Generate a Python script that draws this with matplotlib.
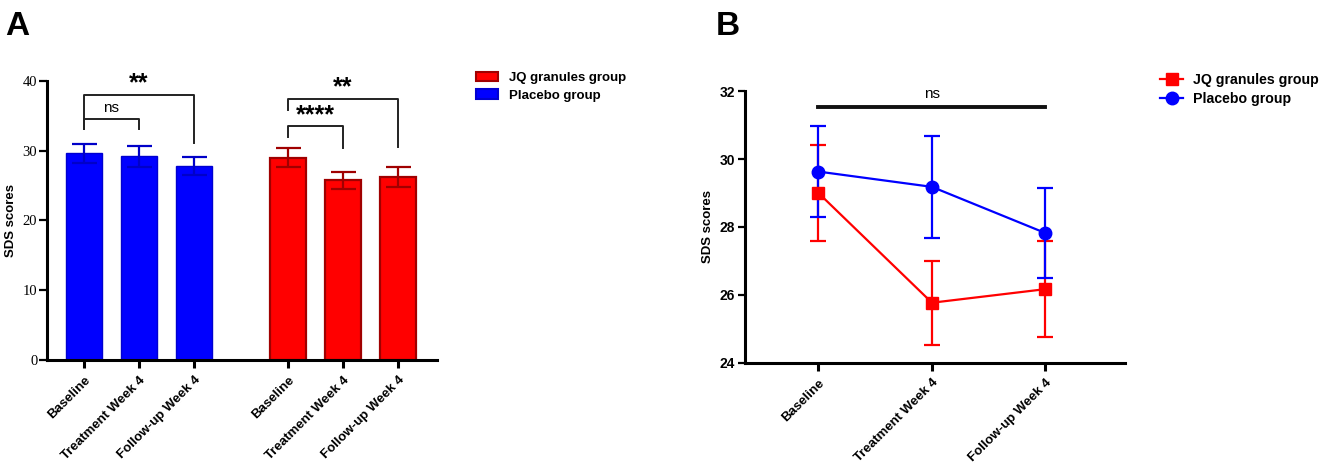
import numpy as np
import matplotlib
matplotlib.use('Agg')
import matplotlib.pyplot as plt
from matplotlib.patches import Patch
from matplotlib.lines import Line2D

plt.rcParams['font.family'] = ['Liberation Sans', 'DejaVu Sans']

# data
timepoints = ['Baseline', 'Treatment Week 4', 'Follow-up Week 4']
placebo_mean = [29.63, 29.18, 27.82]
placebo_err = [1.35, 1.5, 1.33]
jq_mean = [29.0, 25.77, 26.17]
jq_err = [1.4, 1.23, 1.42]

# significance marks for panel A: (group, i, j, bracket height, left leg end, right leg end, label)
sig_a = [
    ('placebo', 0, 1, 34.5, 33.1, 33.1, 'ns'),
    ('placebo', 0, 2, 38.0, 33.1, 31.1, '**'),
    ('jq', 0, 1, 33.5, 32.0, 30.4, '****'),
    ('jq', 0, 2, 37.4, 35.8, 30.5, '**'),
]

BLUE = '#0000ff'
RED = '#ff0000'
DARKRED = '#a00000'

fig = plt.figure(figsize=(13.25, 4.67), dpi=100)

# ---------- panel A ----------
axA = fig.add_axes([0.0355, 0.229, 0.2945, 0.598])
pos_p = np.arange(3)
pos_j = np.arange(3) + 3.7
w = 0.65
axA.bar(pos_p, placebo_mean, w, color=BLUE, edgecolor='#0000d0', linewidth=1)
axA.errorbar(pos_p, placebo_mean, yerr=placebo_err, fmt='none', ecolor='#0000c8',
             elinewidth=1.6, capsize=9, capthick=1.6)
axA.bar(pos_j, jq_mean, w, color=RED, edgecolor=DARKRED, linewidth=1.6)
axA.errorbar(pos_j, jq_mean, yerr=jq_err, fmt='none', ecolor=DARKRED,
             elinewidth=1.6, capsize=9, capthick=1.6)

axA.set_xlim(-0.67, 6.41)
axA.set_ylim(0, 40)
axA.set_yticks([0, 10, 20, 30, 40])
axA.set_yticklabels(['0', '10', '20', '30', '40'], family='Liberation Serif', fontsize=10.5)
axA.set_xticks(np.concatenate([pos_p, pos_j]))
axA.set_xticklabels(timepoints + timepoints, rotation=45, ha='right',
                    rotation_mode='anchor', fontsize=9.5, fontweight='bold')
axA.set_ylabel('SDS scores', fontsize=9.5, fontweight='bold')
for s in ['top', 'right']:
    axA.spines[s].set_visible(False)
for s in ['left', 'bottom']:
    axA.spines[s].set_linewidth(2.2)
axA.tick_params(axis='x', length=6, width=2.2, pad=4)
axA.tick_params(axis='y', length=6, width=1.6, pad=1)

for grp, i, j, h, l1, l2, lab in sig_a:
    base = pos_p if grp == 'placebo' else pos_j
    x1, x2 = base[i], base[j]
    axA.plot([x1, x1, x2, x2], [l1, h, h, l2], color='#222222', lw=1.4, clip_on=False)
    if '*' in lab:
        axA.text((x1 + x2) / 2, h - 0.1, lab, ha='center', va='bottom',
                 fontsize=18, fontweight='bold')
    else:
        axA.text((x1 + x2) / 2, h + 0.6, lab, ha='center', va='bottom', fontsize=11)

axA.legend(handles=[Patch(facecolor=RED, edgecolor=DARKRED, linewidth=1.5, label='JQ granules group'),
                    Patch(facecolor=BLUE, edgecolor='#0000d0', linewidth=1.5, label='Placebo group')],
           loc='upper left', bbox_to_anchor=(1.07, 1.075), frameon=False,
           prop={'size': 9.5, 'weight': 'bold'}, handlelength=1.6, handleheight=0.75,
           handletextpad=0.9, labelspacing=0.4)

fig.text(0.004, 0.925, 'A', fontsize=24, fontweight='bold')

# ---------- panel B ----------
axB = fig.add_axes([0.562, 0.223, 0.287, 0.582])
x = np.arange(3)
axB.errorbar(x, jq_mean, yerr=jq_err, color=RED, marker='s', markersize=9,
             lw=1.6, elinewidth=1.6, capsize=6, capthick=1.6, label='JQ granules group')
axB.errorbar(x, placebo_mean, yerr=placebo_err, color=BLUE, marker='o', markersize=9,
             lw=1.6, elinewidth=1.6, capsize=6, capthick=1.6, label='Placebo group')
axB.set_xlim(-0.65, 2.7)
axB.set_ylim(24, 32)
axB.set_yticks([24, 26, 28, 30, 32])
axB.set_yticklabels(['24', '26', '28', '30', '32'], fontsize=10, fontweight='bold')
axB.set_xticks(x)
axB.set_xticklabels(timepoints, rotation=45, ha='right', rotation_mode='anchor',
                    fontsize=9.5, fontweight='bold')
axB.set_ylabel('SDS scores', fontsize=9.5, fontweight='bold')
for s in ['top', 'right']:
    axB.spines[s].set_visible(False)
for s in ['left', 'bottom']:
    axB.spines[s].set_linewidth(2.2)
axB.tick_params(axis='x', length=6, width=2.2, pad=4)
axB.tick_params(axis='y', length=5, width=1.6, pad=2)

axB.plot([x[0], x[2]], [31.53, 31.53], color='#111111', lw=2.8, clip_on=False)
axB.text((x[0] + x[2]) / 2, 31.72, 'ns', ha='center', va='bottom', fontsize=11)

axB.legend(handles=[Line2D([], [], color=RED, marker='s', markersize=9, lw=1.6, label='JQ granules group'),
                    Line2D([], [], color=BLUE, marker='o', markersize=9, lw=1.6, label='Placebo group')],
           loc='upper left', bbox_to_anchor=(1.06, 1.115), frameon=False,
           prop={'size': 10.2, 'weight': 'bold'}, handlelength=1.6, handletextpad=0.7,
           labelspacing=0.4)

fig.text(0.54, 0.925, 'B', fontsize=24, fontweight='bold')

fig.savefig('out.png', dpi=100)
